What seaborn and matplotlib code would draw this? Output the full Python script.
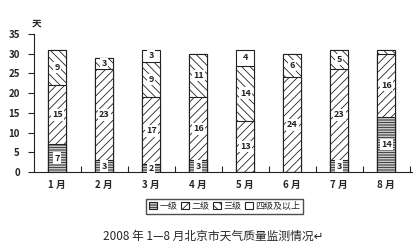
import matplotlib
matplotlib.use("Agg")
import matplotlib.pyplot as plt
from matplotlib.patches import Patch
import numpy as np
import pandas as pd
import seaborn as sns

months = ["1 月", "2 月", "3 月", "4 月", "5 月", "6 月", "7 月", "8 月"]
level1 = [7, 3, 2, 3, 0, 0, 3, 14]
level2 = [15, 23, 17, 16, 13, 24, 23, 16]
level3 = [9, 3, 9, 11, 14, 6, 5, 1]
level4 = [0, 0, 3, 0, 4, 0, 0, 0]
level_names = ["一级", "二级", "三级", "四级及以上"]
hatches = ["-" * 10, "////", "\\\\\\\\", ""]
yticks = [0, 5, 10, 15, 20, 25, 30, 35]
caption = "2008 年 1—8 月北京市天气质量监测情况↵"

sns.set_theme(style="white")
plt.rcParams["font.family"] = ["Noto Sans CJK SC", "DejaVu Sans"]
plt.rcParams["hatch.linewidth"] = 0.6
plt.rcParams["hatch.color"] = "#333333"

series = [level1, level2, level3, level4]
cum = np.cumsum(np.array(series), axis=0)

fig = plt.figure(figsize=(4.18, 2.48), dpi=100)
ax = fig.add_axes([0.081, 0.306, 0.905, 0.557])

# Draw cumulative totals from the top level down so each lower level overlays the one above
for i in range(3, -1, -1):
    df = pd.DataFrame({"month": months, "days": cum[i]})
    n_before = len(ax.patches)
    sns.barplot(data=df, x="month", y="days", ax=ax, color="white",
                edgecolor="#222222", linewidth=0.8, width=0.38,
                saturation=1, errorbar=None)
    for p in ax.patches[n_before:]:
        p.set_hatch(hatches[i])
        p.set_facecolor("white")
        p.set_edgecolor("#222222")

# Value labels in the middle of each segment
for j in range(len(months)):
    for i in range(4):
        v = series[i][j]
        if v < 2:
            continue
        base = cum[i][j] - v
        ax.text(j, base + v / 2, str(v), ha="center", va="center",
                fontsize=6.5, fontweight="bold", color="#222222",
                bbox=dict(boxstyle="square,pad=0.15", fc="white", ec="none"))

ax.set_xlim(-0.5, 7.55)
ax.set_ylim(0, 35)
ax.set_yticks(yticks)
ax.set_yticklabels([str(t) for t in yticks], fontsize=7, fontweight="bold")
ax.set_xticks(range(len(months)))
ax.set_xticklabels(months, fontsize=7, fontweight="bold")
ax.set_xlabel("")
ax.set_ylabel("")
ax.tick_params(axis="x", length=0, pad=6)
ax.tick_params(axis="y", length=4, width=0.8, direction="out", pad=6, left=True)
ax.set_xticks(np.arange(0.5, 7.6, 1), minor=True)
ax.tick_params(axis="x", which="minor", length=4, width=0.8, direction="in", bottom=True)
for s in ["top", "right"]:
    ax.spines[s].set_visible(False)
for s in ["left", "bottom"]:
    ax.spines[s].set_color("#222222")
    ax.spines[s].set_linewidth(0.8)
ax.text(-0.45, 36.5, "天", fontsize=7, fontweight="bold", ha="center", va="bottom")

handles = [Patch(facecolor="white", edgecolor="#222222", hatch=h, linewidth=0.8)
           for h in hatches]
fig.legend(handles, level_names, loc="center", bbox_to_anchor=(0.537, 0.168),
           ncol=4, fontsize=6.5, frameon=True, fancybox=False, edgecolor="#222222",
           handlelength=0.9, handleheight=0.9, handletextpad=0.25, columnspacing=0.4,
           borderpad=0.3)
fig.text(0.51, 0.048, caption, ha="center", va="center", fontsize=8.5)

fig.savefig("out.png", dpi=100)
